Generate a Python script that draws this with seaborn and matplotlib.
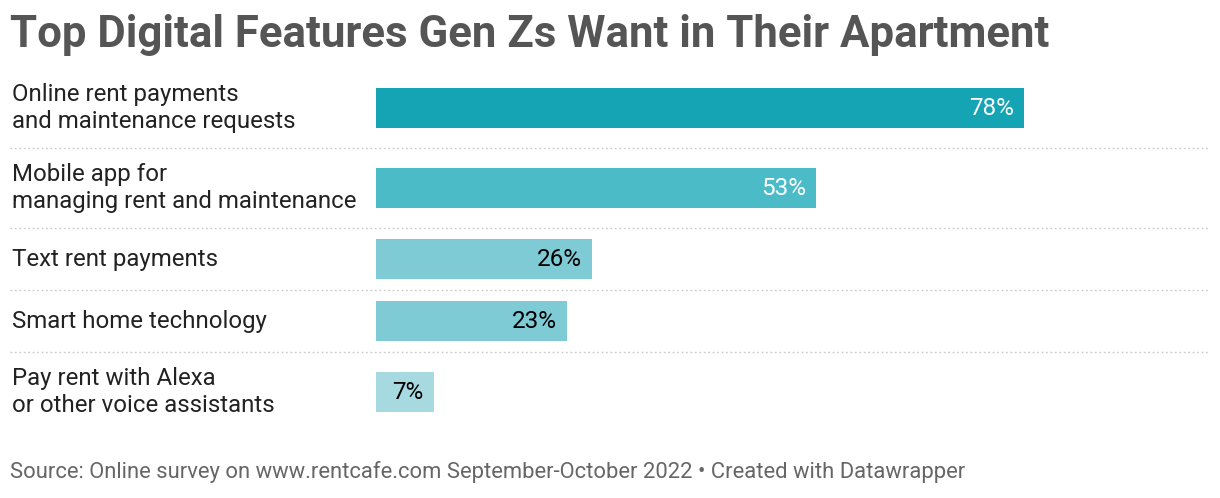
import matplotlib
matplotlib.use("Agg")
import matplotlib.pyplot as plt
import seaborn as sns
from matplotlib.lines import Line2D

categories = [
    "Online rent payments\nand maintenance requests",
    "Mobile app for\nmanaging rent and maintenance",
    "Text rent payments",
    "Smart home technology",
    "Pay rent with Alexa\nor other voice assistants",
]
values = [78, 53, 26, 23, 7]
value_labels = ["78%", "53%", "26%", "23%", "7%"]
bar_colors = ["#15a4b4", "#4cbbc8", "#7fcbd5", "#7fcbd5", "#a6d9e0"]
label_colors = ["white", "white", "black", "black", "black"]

title = "Top Digital Features Gen Zs Want in Their Apartment"
footer = "Source: Online survey on www.rentcafe.com September-October 2022 • Created with Datawrapper"

W, H = 1220, 498
sns.set_theme(style="white")
plt.rcParams["font.family"] = ["Roboto", "DejaVu Sans"]

fig = plt.figure(figsize=(W / 100, H / 100), dpi=100)

# layout in pixels
top_px, x0_px, x1_px = 68, 376, 1207
row_h = [80 if "\n" in c else 62 for c in categories]
edges = [top_px]
for h in row_h:
    edges.append(edges[-1] + h)
centers = [(a + b) / 2 for a, b in zip(edges[:-1], edges[1:])]
bottom_px = edges[-1]

ax = fig.add_axes([x0_px / W, 1 - bottom_px / H, (x1_px - x0_px) / W, (bottom_px - top_px) / H])
sns.barplot(x=values, y=centers, hue=categories, palette=bar_colors, orient="h",
            native_scale=True, width=40 / 62, dodge=False, legend=False, ax=ax,
            saturation=1, edgecolor="none", linewidth=0)
ax.set_xlim(0, 100)
ax.set_ylim(bottom_px, top_px)
ax.axis("off")

for v, c, lab, col in zip(values, centers, value_labels, label_colors):
    ax.annotate(lab, xy=(v, c), xytext=(-7.5, 0), textcoords="offset points",
                ha="right", va="center", fontsize=17.5, color=col)

for lab, c in zip(categories, centers):
    fig.text(12 / W, 1 - c / H, lab, ha="left", va="center", fontsize=17.3,
             color="#222222", linespacing=1.22)

for e in edges[1:-1]:
    fig.add_artist(Line2D([10 / W, 1208 / W], [1 - e / H, 1 - e / H], color="#c8c8c8",
                          lw=1.0, linestyle=(0, (1.2, 2.0))))

fig.text(10 / W, 1 - 35 / H, title, ha="left", va="center", fontsize=31.5,
         fontweight="bold", color="#555555")
fig.text(10 / W, 1 - 472 / H, footer, ha="left", va="center", fontsize=15.8,
         color="#666666")

fig.savefig("out.png", dpi=100, facecolor="white")
